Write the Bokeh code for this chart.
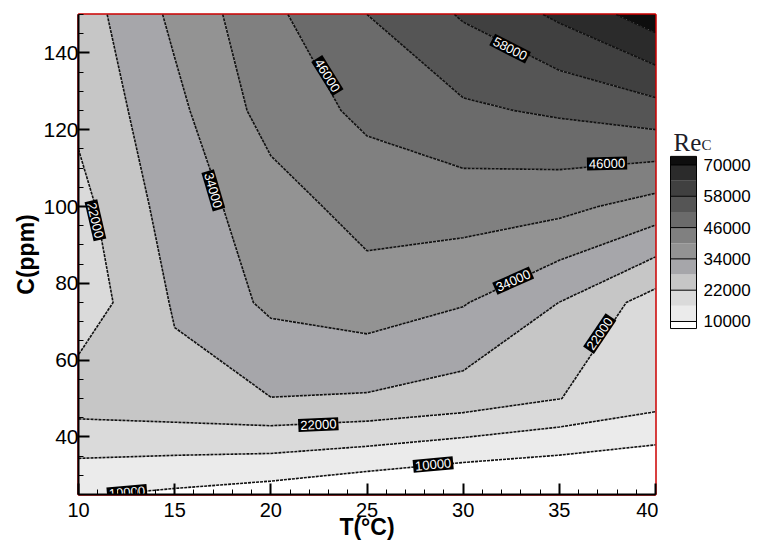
import numpy as np
from bokeh.plotting import figure
from bokeh.models import Range1d, FixedTicker, ColumnDataSource
from bokeh.layouts import row
from bokeh.embed import file_html
from bokeh.resources import INLINE
from bokeh.core.properties import value

# ---------------- data ----------------
T_values = [10, 15, 20, 25, 30, 35, 40]          # T (°C)
C_values = [25, 50, 75, 100, 125, 150]           # C (ppm)
Re_C25 = [10500, 8900, 7100, 4500, 2300, 1600, 1000]
Re_C50 = [25100, 26300, 27900, 27400, 25400, 22100, 18400]
Re_C75 = [18300, 28600, 35200, 37200, 34400, 27950, 19400]
Re_C100 = [20100, 30800, 37200, 42400, 42700, 41700, 37500]
Re_C125 = [23300, 32400, 42500, 47300, 51000, 52900, 55600]
Re_C150 = [24900, 35300, 44700, 52000, 58600, 65100, 73400]

contour_levels = [0, 10000, 16000, 22000, 28000, 34000, 40000, 46000,
                  52000, 58000, 64000, 70000, 80000]
colorbar_ticks = [10000, 22000, 34000, 46000, 58000, 70000]
x_ticks = [10, 15, 20, 25, 30, 35, 40]
y_ticks = [40, 60, 80, 100, 120, 140]

# contour line labels
label_T = [22.94, 32.44, 37.48, 17.01, 10.88, 32.6, 37.1, 22.47, 28.44, 12.52]
label_C = [134.1, 141.1, 111.2, 104.2, 96.4, 80.7, 66.9, 43.2, 32.8, 25.6]
label_text = ["46000", "58000", "46000", "34000", "22000", "34000", "22000",
              "22000", "10000", "10000"]
label_angle = [-58, -27, 1.3, -73.6, -77, 24, 56, 2.7, 5.2, 5]

# ---------------- styles ----------------
band_colors = ["#ffffff", "#ebebeb", "#dadada", "#c6c6c6", "#a6a6aa", "#939393",
               "#808080", "#6b6b6b", "#555555", "#404040", "#2b2b2b", "#0e0e0e"]
SANS = "Liberation Sans"

# ---------------- main plot ----------------
p = figure(width=658, height=543, x_range=Range1d(10, 40), y_range=Range1d(25, 150),
           output_backend="svg", toolbar_location=None,
           min_border_left=78, min_border_right=3, min_border_top=14, min_border_bottom=49)
p.background_fill_color = "white"
p.border_fill_color = "white"
p.xgrid.visible = False
p.ygrid.visible = False
p.outline_line_color = "#cc0000"
p.outline_line_width = 2.5

z = np.array([Re_C25, Re_C50, Re_C75, Re_C100, Re_C125, Re_C150], dtype=float)
cr = p.contour(np.array(T_values, dtype=float), np.array(C_values, dtype=float), z,
               levels=contour_levels, fill_color=band_colors,
               line_color="#111111", line_width=1.6)
cr.line_renderer.glyph.line_dash = "3 1"

lsrc = ColumnDataSource(dict(x=label_T, y=label_C, text=label_text, angle=label_angle))
p.text(x="x", y="y", text="text", angle="angle", angle_units="deg", source=lsrc,
       text_align="center", text_baseline="middle", text_color="white",
       text_font_size="13px", text_font=value(SANS),
       background_fill_color="black", padding=2)

p.xaxis.ticker = FixedTicker(ticks=x_ticks, minor_ticks=list(range(10, 41)))
p.yaxis.ticker = FixedTicker(ticks=y_ticks, minor_ticks=list(range(25, 151, 5)))
for ax in (p.xaxis[0], p.yaxis[0]):
    ax.major_tick_in = 11
    ax.major_tick_out = 0
    ax.minor_tick_in = 5
    ax.minor_tick_out = 0
    ax.major_tick_line_width = 2
    ax.minor_tick_line_width = 1
    ax.axis_line_width = 2
    ax.axis_line_color = "black"
    ax.major_label_text_font = SANS
    ax.major_label_text_font_size = "20px"
    ax.major_label_text_color = "black"
    ax.axis_label_text_font = SANS
    ax.axis_label_text_font_size = "23px"
    ax.axis_label_text_font_style = "bold"
    ax.axis_label_text_color = "black"
p.yaxis.major_label_text_font_size = "21px"
p.xaxis.axis_label = "T(°C)"
p.yaxis.axis_label = "C(ppm)"
p.xaxis.major_label_standoff = 8
p.xaxis.axis_label_standoff = -6
p.yaxis.major_label_standoff = 0
p.yaxis.axis_label_standoff = 1

# ---------------- colour bar ----------------
# frame aligned with the main frame (page y 14..494)
cb = figure(width=100, height=543, x_range=Range1d(0, 100), y_range=Range1d(-56330, 127700),
            output_backend="svg", toolbar_location=None,
            x_axis_location=None, y_axis_location=None,
            min_border_left=0, min_border_right=0, min_border_top=14, min_border_bottom=49)
cb.xgrid.visible = False
cb.ygrid.visible = False
cb.outline_line_color = None
cb.background_fill_color = "white"
cb.border_fill_color = "white"

band_bottom = [7300] + contour_levels[1:-1]
band_top = contour_levels[1:-1] + [73300]
cb.quad(left=12, right=38, bottom=band_bottom, top=band_top,
        fill_color=band_colors, line_color=None)
cb.quad(left=[12], right=[38], bottom=[7300], top=[73300],
        fill_color=None, line_color="black", line_width=1)
cb.segment(x0=12, x1=38, y0=colorbar_ticks, y1=colorbar_ticks,
           line_color="black", line_width=1)
cb.text(x=45, y=colorbar_ticks, text=[str(t) for t in colorbar_ticks],
        text_align="left", text_baseline="middle", text_color="black",
        text_font_size="17px", text_font=value(SANS))
cb.text(x=15, y=78600, text=["Re"], text_align="left", text_baseline="alphabetic",
        text_color="#1e1e2a", text_font_size="25px", text_font=value("Liberation Serif"))
cb.text(x=43, y=77600, text=["C"], text_align="left", text_baseline="alphabetic",
        text_color="#1e1e2a", text_font_size="15px", text_font=value("Liberation Serif"))

layout = row(p, cb)
open("out.html", "w").write(file_html(layout, INLINE))
